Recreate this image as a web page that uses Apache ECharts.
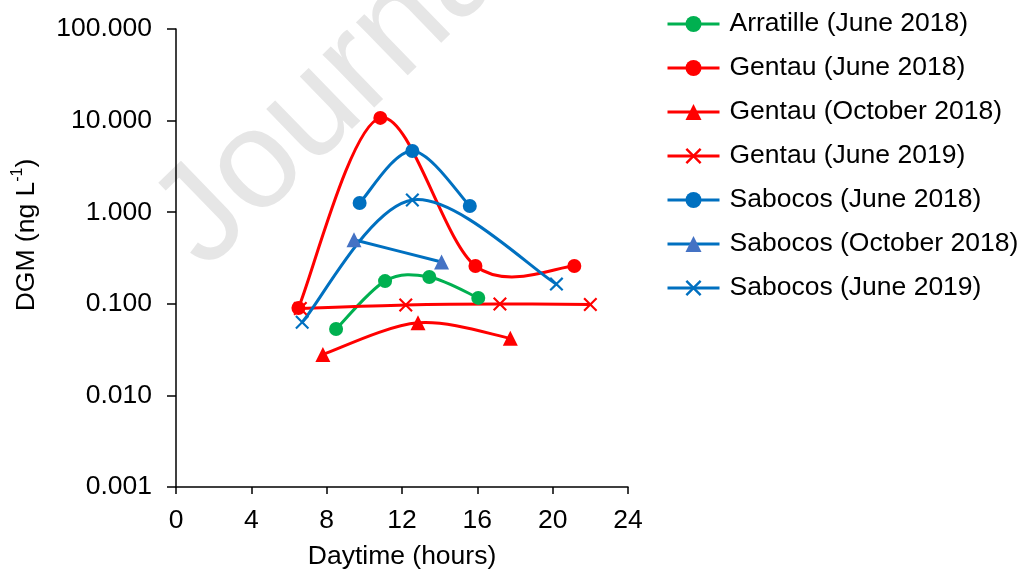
<!DOCTYPE html>
<html>
<head>
<meta charset="utf-8">
<script src="https://cdn.jsdelivr.net/npm/echarts@6/dist/echarts.min.js"></script>
<style>
  html, body { margin: 0; padding: 0; background: #fff; }
  #chart { width: 1021px; height: 571px; }
</style>
</head>
<body>
<div id="chart"></div>
<script>
// Dissolved gaseous mercury over the day, by site and campaign
const seriesNames = [
  'Arratille (June 2018)',
  'Gentau (June 2018)',
  'Gentau (October 2018)',
  'Gentau (June 2019)',
  'Sabocos (June 2018)',
  'Sabocos (October 2018)',
  'Sabocos (June 2019)'
];

// [hour, DGM ng/L]
const arratilleJun18 = [[8.5, 0.053], [11.1, 0.177], [13.45, 0.196], [16.05, 0.116]];
const gentauJun18    = [[6.5, 0.090], [10.85, 10.7], [15.9, 0.259], [21.15, 0.259]];
const gentauOct18    = [[7.8, 0.028], [12.85, 0.062], [17.75, 0.042]];
const gentauJun19    = [[6.6, 0.089], [12.2, 0.097], [17.2, 0.0995], [22.0, 0.098]];
const sabocosJun18   = [[9.75, 1.26], [12.55, 4.66], [15.6, 1.17]];
const sabocosOct18   = [[9.45, 0.50], [14.1, 0.286]];
const sabocosJun19   = [[6.7, 0.063], [12.55, 1.36], [20.2, 0.164]];

const xTicks = [0, 4, 8, 12, 16, 20, 24];
const yTicks = [0.001, 0.01, 0.1, 1, 10, 100];

const GREEN = '#00B050', RED = '#FF0000', BLUE = '#0070C0', TRI_BLUE = '#4472C4';
const FONT = 'Liberation Sans, Arial, Helvetica, sans-serif';
const FS = 26.5;
const LW = 3;

// X-shaped marker as a single filled polygon
const w = 1.3;
const CROSS = 'path://M0,' + w + 'L' + w + ',0L6,' + (6 - w) + 'L' + (12 - w) + ',0L12,' + w +
  'L' + (6 + w) + ',6L12,' + (12 - w) + 'L' + (12 - w) + ',12L6,' + (6 + w) + 'L' + w + ',12L0,' +
  (12 - w) + 'L' + (6 - w) + ',6Z';

// Smoothed connecting curve: cubic Bezier through the points in pixel space,
// control points one sixth of the neighbour span (Catmull-Rom style).
function curve(name, pts, color) {
  return {
    name: name + ' curve',
    type: 'custom',
    data: pts,
    encode: { x: 0, y: 1 },
    z: 2,
    silent: true,
    renderItem: function (params, api) {
      if (params.dataIndex !== 0) return;
      const p = pts.map(d => api.coord(d));
      const children = [];
      for (let i = 0; i < p.length - 1; i++) {
        const p0 = p[i - 1] || p[i], p1 = p[i], p2 = p[i + 1], p3 = p[i + 2] || p[i + 1];
        children.push({
          type: 'bezierCurve',
          shape: {
            x1: p1[0], y1: p1[1],
            cpx1: p1[0] + (p2[0] - p0[0]) / 6, cpy1: p1[1] + (p2[1] - p0[1]) / 6,
            cpx2: p2[0] - (p3[0] - p1[0]) / 6, cpy2: p2[1] - (p3[1] - p1[1]) / 6,
            x2: p2[0], y2: p2[1]
          },
          style: { fill: null, stroke: color, lineWidth: LW, lineCap: 'round' }
        });
      }
      return { type: 'group', children: children };
    }
  };
}

// Markers (and legend entry) for one series
function markers(name, data, color, symbol, size, symColor) {
  return {
    name: name,
    type: 'line',
    data: data,
    z: 3,
    symbol: symbol,
    symbolSize: size,
    showAllSymbol: true,
    lineStyle: { color: color, width: LW, opacity: 0 },
    itemStyle: { color: symColor || color, borderWidth: 0 },
    emphasis: { disabled: true }
  };
}

const lineColors = [GREEN, RED, RED, RED, BLUE, BLUE, BLUE];

const chart = echarts.init(document.getElementById('chart'), null, { renderer: 'canvas' });

chart.setOption({
  animation: false,
  backgroundColor: '#ffffff',
  textStyle: { fontFamily: FONT },
  graphic: [
    {
      type: 'text',
      x: 227, y: 294,
      rotation: 0.77,
      z: -10,
      silent: true,
      style: {
        text: 'Journal Pre-proof',
        font: '140px ' + FONT,
        fill: '#e6e6e6',
        align: 'left',
        verticalAlign: 'bottom'
      }
    },
    {
      type: 'text',
      x: 25, y: 235,
      rotation: Math.PI / 2,
      silent: true,
      style: {
        text: '{m|DGM (ng L}{s|-1}{m|)}',
        align: 'center',
        verticalAlign: 'middle',
        rich: {
          m: { fontSize: FS, fontFamily: FONT, fill: '#000', verticalAlign: 'bottom', lineHeight: 30 },
          s: { fontSize: 16, fontFamily: FONT, fill: '#000', verticalAlign: 'top', lineHeight: 30, padding: [0, 0, 12, 0] }
        }
      }
    }
  ],
  grid: { left: 176, top: 29, right: 393, bottom: 84, containLabel: false, outerBoundsMode: 'none' },
  legend: {
    orient: 'vertical',
    left: 666,
    top: 9,
    padding: 0,
    itemWidth: 52,
    itemHeight: 20,
    itemGap: 14,
    data: seriesNames.map((n, i) => ({
      name: n,
      lineStyle: { color: lineColors[i], width: LW, opacity: 1 }
    })),
    textStyle: { fontSize: FS, color: '#000', fontFamily: FONT, padding: [0, 0, 0, 5], lineHeight: 30 }
  },
  xAxis: {
    type: 'value',
    min: 0, max: 24, interval: 4,
    name: 'Daytime (hours)',
    nameLocation: 'middle',
    nameGap: 56,
    nameTextStyle: { fontSize: FS, color: '#000', fontFamily: FONT },
    axisLine: { lineStyle: { color: '#000', width: 1.5 } },
    axisTick: { show: true, length: 7, inside: false, lineStyle: { color: '#000', width: 1.5 }, customValues: xTicks },
    axisLabel: { fontSize: FS, color: '#000', margin: 20, customValues: xTicks, formatter: v => String(v) },
    splitLine: { show: false }
  },
  yAxis: {
    type: 'log',
    logBase: 10,
    min: 0.001, max: 100,
    axisLine: { show: true, lineStyle: { color: '#000', width: 1.5 } },
    axisTick: { show: true, length: 9, inside: false, lineStyle: { color: '#000', width: 1.5 }, customValues: yTicks },
    axisLabel: { fontSize: FS, color: '#000', margin: 24, customValues: yTicks, formatter: v => Number(v).toFixed(3) },
    splitLine: { show: false }
  },
  series: [
    curve(seriesNames[0], arratilleJun18, GREEN),
    curve(seriesNames[1], gentauJun18, RED),
    curve(seriesNames[2], gentauOct18, RED),
    curve(seriesNames[3], gentauJun19, RED),
    curve(seriesNames[4], sabocosJun18, BLUE),
    curve(seriesNames[5], sabocosOct18, BLUE),
    curve(seriesNames[6], sabocosJun19, BLUE),
    markers(seriesNames[0], arratilleJun18, GREEN, 'circle', 14),
    markers(seriesNames[1], gentauJun18, RED, 'circle', 14),
    markers(seriesNames[2], gentauOct18, RED, 'triangle', 15),
    markers(seriesNames[3], gentauJun19, RED, CROSS, 14),
    markers(seriesNames[4], sabocosJun18, BLUE, 'circle', 14),
    markers(seriesNames[5], sabocosOct18, BLUE, 'triangle', 15, TRI_BLUE),
    markers(seriesNames[6], sabocosJun19, BLUE, CROSS, 14)
  ]
});
</script>
</body>
</html>
